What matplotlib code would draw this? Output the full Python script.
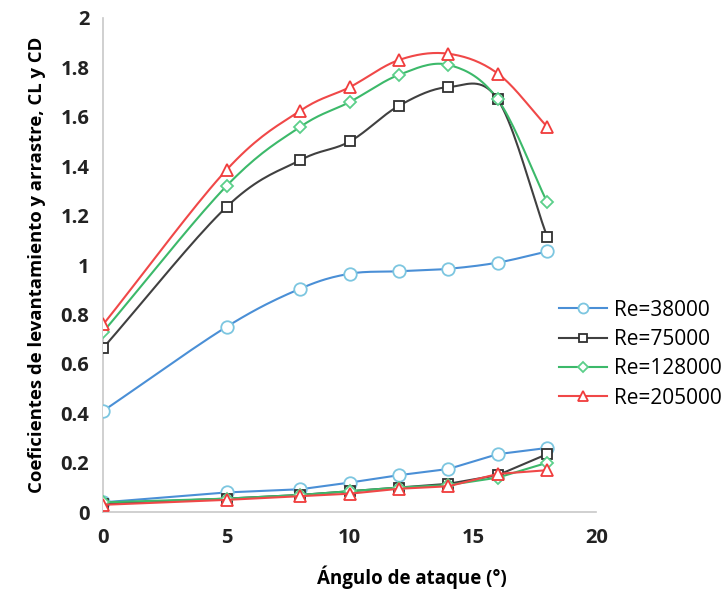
import numpy as np
import matplotlib
matplotlib.use("Agg")
import matplotlib.pyplot as plt

plt.rcParams['font.family'] = ['Open Sans', 'DejaVu Sans']

angles = [0, 5, 8, 10, 12, 14, 16, 18]
labels = ["Re=38000", "Re=75000", "Re=128000", "Re=205000"]

# lift coefficient curves
cl_38000 = [0.41, 0.75, 0.905, 0.965, 0.975, 0.985, 1.01, 1.055]
cl_75000 = [0.665, 1.235, 1.425, 1.50, 1.645, 1.72, 1.67, 1.115]
cl_128000 = [0.73, 1.32, 1.56, 1.66, 1.77, 1.81, 1.67, 1.255]
cl_205000 = [0.76, 1.385, 1.625, 1.72, 1.83, 1.855, 1.775, 1.56]

# drag coefficient curves
cd_38000 = [0.04, 0.08, 0.093, 0.12, 0.15, 0.175, 0.235, 0.26]
cd_75000 = [0.035, 0.055, 0.07, 0.085, 0.10, 0.115, 0.15, 0.235]
cd_128000 = [0.04, 0.055, 0.07, 0.085, 0.10, 0.11, 0.14, 0.20]
cd_205000 = [0.03, 0.05, 0.065, 0.075, 0.095, 0.105, 0.155, 0.17]

line_colors = ["#4a8fd6", "#404040", "#3cb96a", "#f04848"]
edge_colors = ["#7cc6e0", "#303030", "#5ccf8a", "#f03c3c"]
markers = ["o", "s", "D", "^"]
msizes = [9, 7.5, 6.5, 9]


# smooth like excel's "smoothed line" (catmull-rom through the points)
def smooth(x, y, n=20):
    x = np.asarray(x, float)
    y = np.asarray(y, float)
    px = np.concatenate([[2 * x[0] - x[1]], x, [2 * x[-1] - x[-2]]])
    py = np.concatenate([[2 * y[0] - y[1]], y, [2 * y[-1] - y[-2]]])
    xs, ys = [], []
    t = np.linspace(0, 1, n)
    for i in range(1, len(px) - 2):
        for p, out in ((px, xs), (py, ys)):
            p0, p1, p2, p3 = p[i - 1], p[i], p[i + 1], p[i + 2]
            out.extend(0.5 * (2 * p1 + (-p0 + p2) * t
                              + (2 * p0 - 5 * p1 + 4 * p2 - p3) * t ** 2
                              + (-p0 + 3 * p1 - 3 * p2 + p3) * t ** 3))
    return xs, ys


fig = plt.figure(figsize=(7.22, 5.97), dpi=100)
ax = fig.add_axes([0.143, 0.142, 0.683, 0.828])

cl_all = [cl_38000, cl_75000, cl_128000, cl_205000]
cd_all = [cd_38000, cd_75000, cd_128000, cd_205000]

for i in range(4):
    sx, sy = smooth(angles, cl_all[i])
    ax.plot(sx, sy, color=line_colors[i], lw=1.5, zorder=2)
    ax.plot(angles, cl_all[i], ls="none", marker=markers[i], ms=msizes[i],
            mfc="white", mec=edge_colors[i], mew=1.3, zorder=3)
    ax.plot(angles, cd_all[i], color=line_colors[i], lw=1.5, marker=markers[i],
            ms=msizes[i], mfc="white", mec=edge_colors[i], mew=1.3, zorder=3)
    # legend proxy
    ax.plot([], [], color=line_colors[i], lw=1.5, marker=markers[i], ms=msizes[i],
            mfc="white", mec=edge_colors[i], mew=1.3, label=labels[i])

ax.set_xlim(0, 20)
ax.set_ylim(0, 2)
ax.set_xticks([0, 5, 10, 15, 20])
ax.set_yticks([0, 0.2, 0.4, 0.6, 0.8, 1, 1.2, 1.4, 1.6, 1.8, 2])
ax.set_yticklabels(["0", "0.2", "0.4", "0.6", "0.8", "1", "1.2", "1.4", "1.6", "1.8", "2"])
for s in ["top", "right"]:
    ax.spines[s].set_visible(False)
for s in ["left", "bottom"]:
    ax.spines[s].set_color("#c8c8c8")
    ax.spines[s].set_linewidth(1.2)
ax.tick_params(length=0, labelsize=14.5)
ax.tick_params(axis="x", pad=11)
ax.tick_params(axis="y", pad=10)
for lab in ax.get_xticklabels() + ax.get_yticklabels():
    lab.set_fontweight("bold")
    lab.set_color("#222222")

ax.set_xlabel("Ángulo de ataque (°)", fontsize=13.5, fontweight="bold")
ax.xaxis.set_label_coords(0.625, -0.108)
ax.set_ylabel("Coeficientes de levantamiento y arrastre, CL y CD", fontsize=13.3,
              fontweight="bold", labelpad=10)

ax.legend(loc="upper left", bbox_to_anchor=(0.925, 0.43), frameon=False,
          fontsize=15, handlelength=2.3, handletextpad=0.3, labelspacing=0.4,
          borderaxespad=0, borderpad=0, markerscale=0.8)

fig.savefig("out.png", dpi=100)
